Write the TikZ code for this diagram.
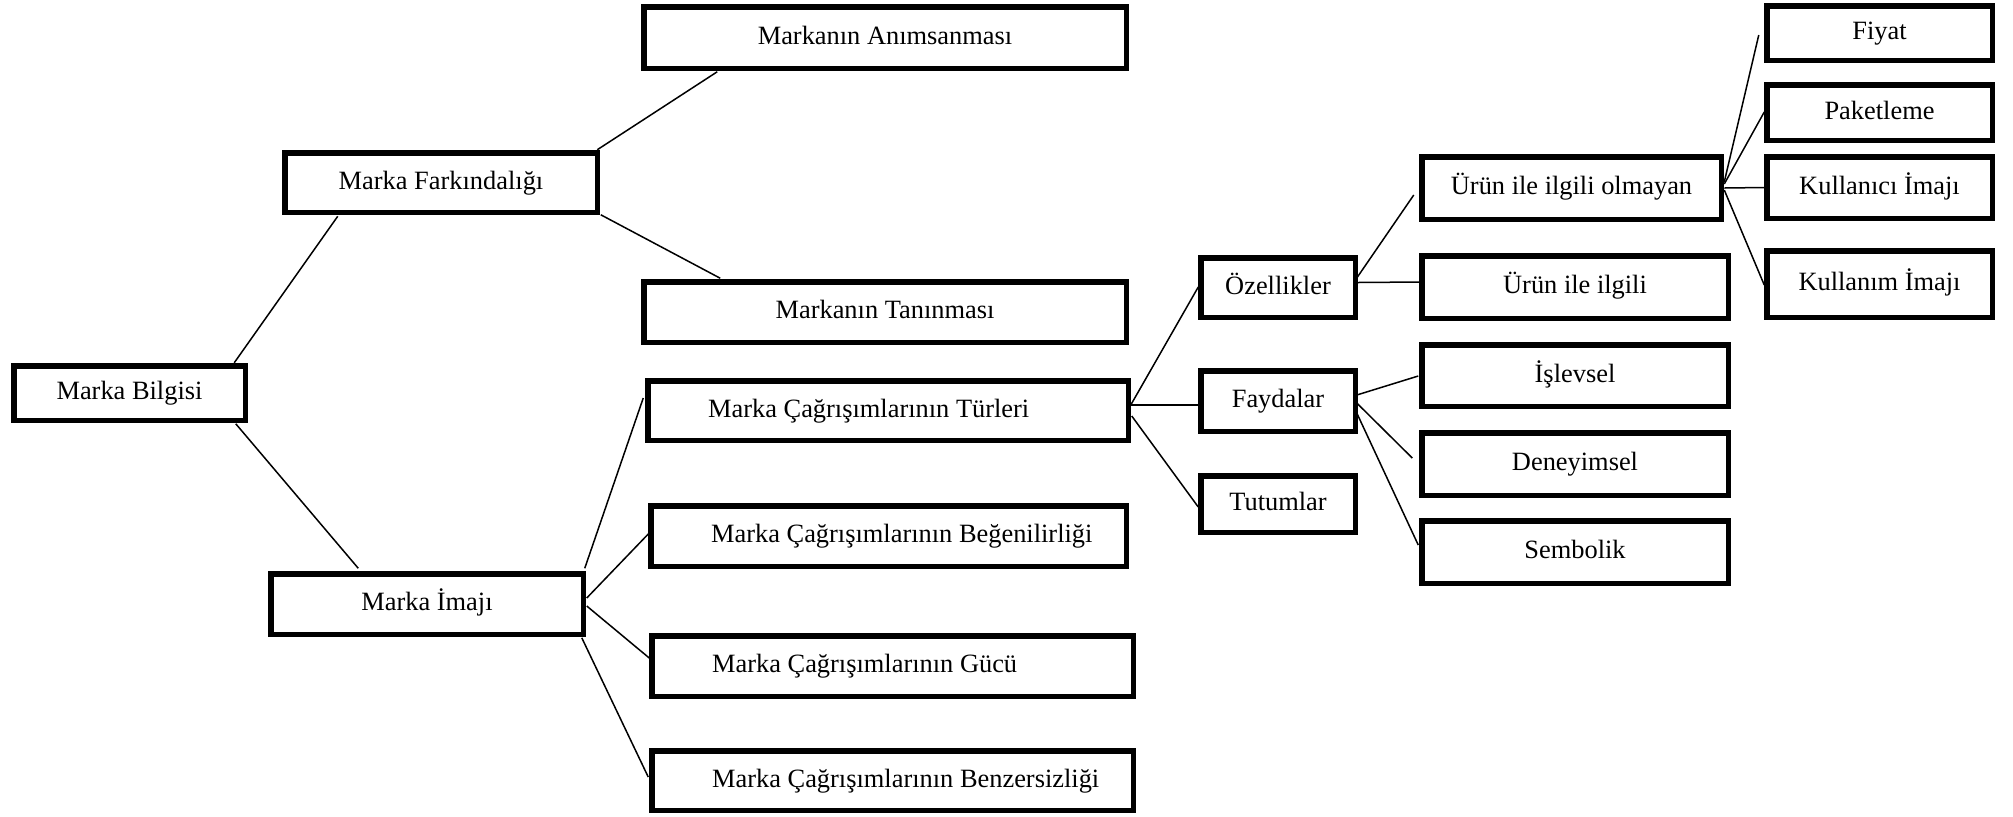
\documentclass[tikz,border=0pt]{standalone}
\usepackage{fontspec}
\setmainfont{Liberation Serif}
\usetikzlibrary{calc}
\tikzset{
  box/.style={draw, line width=2.75pt, inner sep=0pt, outer sep=0pt, fill=white,
              text height=0.86em, text depth=0.2em,
              font=\fontsize{13.2}{16}\selectfont},
  lbl/.style={anchor=west, inner sep=0pt, xshift=30pt, text height=0.86em, text depth=0.2em,
              font=\fontsize{13.2}{16}\selectfont},
  link/.style={line width=0.75pt}
}
\newcommand{\mkbox}[7][]{%
  \pgfmathsetmacro{\bxw}{(#5-#3-5.5)*0.5}%
  \pgfmathsetmacro{\bxh}{(#6-#4-5.5)*0.5}%
  \node[box, minimum width=\bxw pt, minimum height=\bxh pt, #1] (#2) at ({(#3+#5)/2},{(#4+#6)/2}) {#7};%
}
\begin{document}
\begin{tikzpicture}[x=0.5pt,y=-0.5pt]
\useasboundingbox (0,0) rectangle (2013,816);

% level 0-1
\mkbox{B}{11}{363}{248}{423}{Marka Bilgisi}
\mkbox{F}{282}{150}{600}{215}{Marka Farkındalığı}
\mkbox{I}{268}{571}{586}{637}{Marka İmajı}
% level 2
\mkbox{A}{641}{4}{1129}{71}{Markanın Anımsanması}
\mkbox{T}{641}{279}{1129}{345}{Markanın Tanınması}
\mkbox[label={[lbl]west:Marka Çağrışımlarının Türleri}]{Tu}{645}{378}{1131}{443}{}
\mkbox[label={[lbl]west:Marka Çağrışımlarının Beğenilirliği}]{Be}{648}{503}{1129}{569}{}
\mkbox[label={[lbl]west:Marka Çağrışımlarının Gücü}]{Gu}{649}{633}{1136}{699}{}
\mkbox[label={[lbl]west:Marka Çağrışımlarının Benzersizliği}]{Bz}{649}{748}{1136}{813}{}
% level 3
\mkbox{Oz}{1198}{255}{1358}{320}{Özellikler}
\mkbox{Fa}{1198}{368}{1358}{434}{Faydalar}
\mkbox{Tt}{1198}{473}{1358}{535}{Tutumlar}
% level 4
\mkbox{UO}{1419}{154}{1724}{222}{Ürün ile ilgili olmayan}
\mkbox{UI}{1419}{253}{1731}{321}{Ürün ile ilgili}
\mkbox{Is}{1419}{342}{1731}{409}{İşlevsel}
\mkbox{De}{1419}{430}{1731}{498}{Deneyimsel}
\mkbox{Se}{1419}{518}{1731}{586}{Sembolik}
% level 5
\mkbox{Fi}{1764}{3}{1995}{63}{Fiyat}
\mkbox{Pa}{1764}{82}{1995}{143}{Paketleme}
\mkbox{KU}{1764}{154}{1995}{221}{Kullanıcı İmajı}
\mkbox{KI}{1764}{248}{1995}{320}{Kullanım İmajı}

% connectors
\draw[link] ($(B.north east)+(-11,-3)$) -- ($(F.south west)+(53,4)$);
\draw[link] ($(B.south east)+(-9.5,3.5)$) -- ($(I.north west)+(87.5,-5.5)$);
\draw[link] ($(F.north east)+(0,-3)$) -- ($(A.south west)+(73.5,3.5)$);
\draw[link] ($(F.south east)+(3.5,2.5)$) -- ($(T.north west)+(76.5,-3.5)$);

\draw[link] ($(I.north east)+(1.5,-5.5)$) -- ($(Tu.west)+(-4.5,-12.5)$);
\draw[link] ($(I.east)+(3.5,-6)$) -- ($(Be.west)+(-2.5,-2)$);
\draw[link] ($(I.east)+(3.5,2)$) -- ($(Gu.west)+(-2.5,-8)$);
\draw[link] ($(I.south east)+(-1.5,3.5)$) -- ($(Bz.west)+(-3.5,-3.5)$);

\draw[link] ($(Tu.east)+(2.5,-5.5)$) -- ($(Oz.west)+(-2.5,-0.5)$);
\draw[link] ($(Tu.east)+(2.5,-5.5)$) -- ($(Fa.west)+(-2.5,4)$);
\draw[link] ($(Tu.east)+(3.5,5.5)$) -- ($(Tt.west)+(-2.5,3)$);

\draw[link] ($(Oz.east)+(1.5,-9.5)$) -- ($(UO.west)+(-8,7)$);
\draw[link] ($(Oz.east)+(2.5,-5)$) -- ($(UI.west)+(-2.5,-5)$);

\draw[link] ($(Fa.east)+(1.5,-6)$) -- ($(Is.west)+(-3.5,0.5)$);
\draw[link] ($(Fa.east)+(1.5,2)$) -- ($(De.west)+(-9.5,-6)$);
\draw[link] ($(Fa.east)+(1.5,12)$) -- ($(Se.west)+(-3.5,-7)$);

\draw[link] ($(UO.east)+(3,-6)$) -- ($(Fi.west)+(-8,2)$);
\draw[link] ($(UO.east)+(3,-4)$) -- ($(Pa.west)+(-2.5,-0.5)$);
\draw[link] ($(UO.east)+(3,0)$) -- ($(KU.west)+(-2.5,0)$);
\draw[link] ($(UO.east)+(3,2)$) -- ($(KI.west)+(-2.5,1)$);
\end{tikzpicture}
\end{document}
